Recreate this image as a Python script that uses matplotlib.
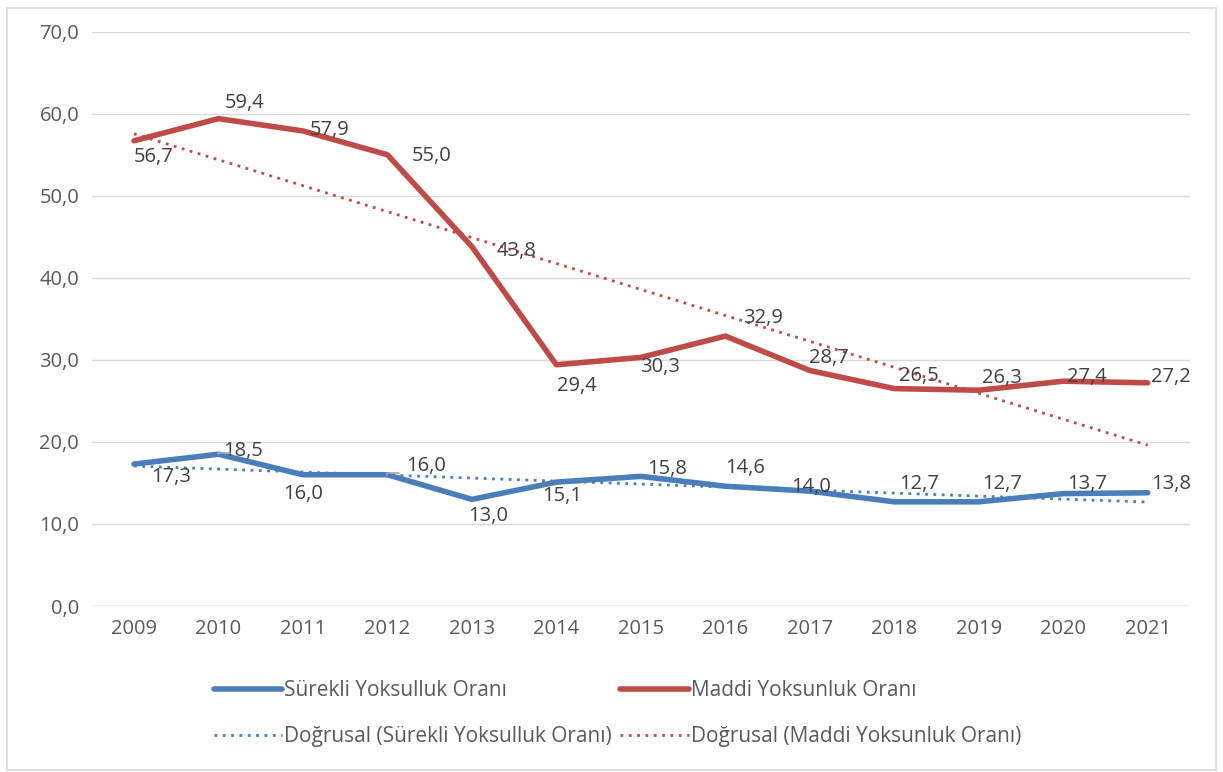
import numpy as np
import matplotlib.pyplot as plt
from matplotlib.patches import Rectangle

years = ['2009', '2010', '2011', '2012', '2013', '2014', '2015',
         '2016', '2017', '2018', '2019', '2020', '2021']
surekli = [17.3, 18.5, 16.0, 16.0, 13.0, 15.1, 15.8, 14.6, 14.0, 12.7, 12.7, 13.7, 13.8]
maddi = [56.7, 59.4, 57.9, 55.0, 43.8, 29.4, 30.3, 32.9, 28.7, 26.5, 26.3, 27.4, 27.2]

# label offsets in points (dx, dy)
off_surekli = [(27, -9), (18, 2), (0, -14), (28, 6), (12, -12), (4, -10), (19, 5),
               (14, 13), (1, 3), (18, 13), (17, 13), (17, 7), (17, 6)]
off_maddi = [(14, -12), (19, 11), (19, 1), (32, -1), (32, -3), (15, -15), (14, -7),
             (27, 13), (14, 9), (18, 9), (17, 9), (17, 3), (17, 4)]
callouts = {(0, 1), (0, 3)}  # labels with small leader lines

blue = '#4a7ebb'
red = '#be4b48'
txt = '#404040'

plt.rcParams['font.family'] = ['Open Sans', 'DejaVu Sans']

fig = plt.figure(figsize=(12.23, 7.72), dpi=100)
ax = fig.add_axes([0.075, 0.215, 0.898, 0.744])

x = np.arange(len(years))
l1, = ax.plot(x, surekli, color=blue, lw=4, solid_capstyle='round', label='Sürekli Yoksulluk Oranı')
l2, = ax.plot(x, maddi, color=red, lw=4, solid_capstyle='round', label='Maddi Yoksunluk Oranı')

# linear trend lines (Doğrusal)
p1 = np.polyfit(x, surekli, 1)
p2 = np.polyfit(x, maddi, 1)
l3, = ax.plot(x, np.polyval(p1, x), color=blue, lw=2, ls=(0, (1, 2)), label='Doğrusal (Sürekli Yoksulluk Oranı)')
l4, = ax.plot(x, np.polyval(p2, x), color=red, lw=2, ls=(0, (1, 2)), label='Doğrusal (Maddi Yoksunluk Oranı)')

for k, (vals, offs) in enumerate(((surekli, off_surekli), (maddi, off_maddi))):
    for i, v in enumerate(vals):
        ax.annotate(f'{v:.1f}'.replace('.', ','), (x[i], v), xytext=offs[i],
                    textcoords='offset points', ha='center', va='center',
                    fontsize=14.5, color=txt)
        if (k, i) in callouts:
            # small grey leader like the Excel callout
            ax.annotate('', (x[i], v), xytext=(8, 1), textcoords='offset points',
                        arrowprops=dict(arrowstyle='-', color='#a6a6a6', lw=1.2,
                                        shrinkA=0, shrinkB=0,
                                        connectionstyle='angle,angleA=0,angleB=90,rad=0'))

ax.set_xlim(-0.5, len(years) - 0.5)
ax.set_ylim(0, 70)
ax.set_yticks(np.arange(0, 71, 10))
ax.set_yticklabels([f'{t:.1f}'.replace('.', ',') for t in np.arange(0, 71, 10)])
ax.set_xticks(x)
ax.set_xticklabels(years)
ax.tick_params(length=0, labelsize=14.5, labelcolor='#595959', pad=9)
ax.grid(axis='y', color='#d9d9d9', lw=1)
ax.set_axisbelow(True)
for s in ax.spines.values():
    s.set_visible(False)
ax.axhline(0, color='#d9d9d9', lw=1)

leg = fig.legend(handles=[l1, l3, l2, l4], loc='center', bbox_to_anchor=(0.505, 0.076),
                 ncol=2, frameon=False, fontsize=15, handlelength=3.3,
                 handletextpad=0.1, columnspacing=0.4, labelspacing=1.2)
for t in leg.get_texts():
    t.set_color('#595959')

fig.patches.append(Rectangle((0.006, 0.003), 0.988, 0.987, transform=fig.transFigure,
                             fill=False, edgecolor='#d9d9d9', lw=1.2))

fig.savefig('out.png', dpi=100)
